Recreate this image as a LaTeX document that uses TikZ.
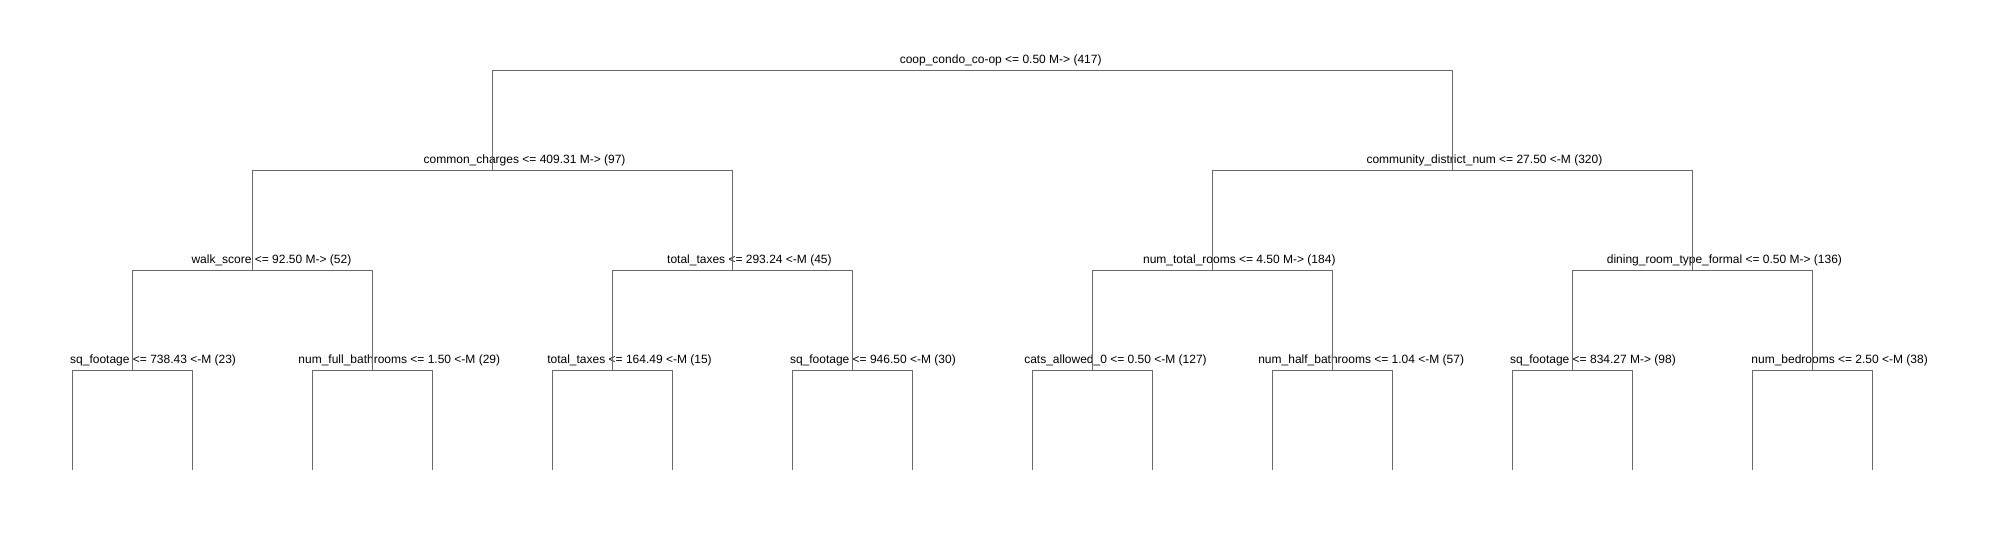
\documentclass[tikz,border=0pt]{standalone}
\usepackage{fontspec}
\setmainfont{Liberation Sans}
\definecolor{treegray}{RGB}{105,105,105}

\begin{document}
\begin{tikzpicture}
[every node/.style={font=\fontsize{9}{10}\selectfont,anchor=base,inner sep=0pt},x=0.75pt,y=-0.75pt]

\useasboundingbox (0,0) rectangle (1998,540);

%split points
\coordinate (coop) at (972.5,70.3);
\coordinate (common) at (492.5,170.3);
\coordinate (district) at (1452.5,170.3);
\coordinate (walk) at (252.5,270.3);
\coordinate (taxesA) at (732.5,270.3);
\coordinate (rooms) at (1212.5,270.3);
\coordinate (dining) at (1692.5,270.3);
\coordinate (sqftA) at (132.5,370.3);
\coordinate (fullbath) at (372.5,370.3);
\coordinate (taxesB) at (612.5,370.3);
\coordinate (sqftB) at (852.5,370.3);
\coordinate (cats) at (1092.5,370.3);
\coordinate (halfbath) at (1332.5,370.3);
\coordinate (sqftC) at (1572.5,370.3);
\coordinate (bedrooms) at (1812.5,370.3);

%leaves
\coordinate (leafA) at (72.5,470.3);
\coordinate (leafB) at (192.5,470.3);
\coordinate (leafC) at (312.5,470.3);
\coordinate (leafD) at (432.5,470.3);
\coordinate (leafE) at (552.5,470.3);
\coordinate (leafF) at (672.5,470.3);
\coordinate (leafG) at (792.5,470.3);
\coordinate (leafH) at (912.5,470.3);
\coordinate (leafI) at (1032.5,470.3);
\coordinate (leafJ) at (1152.5,470.3);
\coordinate (leafK) at (1272.5,470.3);
\coordinate (leafL) at (1392.5,470.3);
\coordinate (leafM) at (1512.5,470.3);
\coordinate (leafN) at (1632.5,470.3);
\coordinate (leafO) at (1752.5,470.3);
\coordinate (leafP) at (1872.5,470.3);

%labels
\node (coopL) at (1000.7,63.8) {coop\_condo\_co-op <= 0.50 M-> (417)};
\node (commonL) at (524.6,163.8) {common\_charges <= 409.31 M-> (97)};
\node (districtL) at (1484.4,163.8) {community\_district\_num <= 27.50 <-M (320)};
\node (walkL) at (271.4,263.8) {walk\_score <= 92.50 M-> (52)};
\node (taxesAL) at (749.4,263.8) {total\_taxes <= 293.24 <-M (45)};
\node (roomsL) at (1239.3,263.8) {num\_total\_rooms <= 4.50 M-> (184)};
\node (diningL) at (1724.4,263.8) {dining\_room\_type\_formal <= 0.50 M-> (136)};
\node (sqftAL) at (153.1,363.8) {sq\_footage <= 738.43 <-M (23)};
\node (fullbathL) at (399.3,363.8) {num\_full\_bathrooms <= 1.50 <-M (29)};
\node (taxesBL) at (629.5,363.8) {total\_taxes <= 164.49 <-M (15)};
\node (sqftBL) at (872.9,363.8) {sq\_footage <= 946.50 <-M (30)};
\node (catsL) at (1115.5,363.8) {cats\_allowed\_0 <= 0.50 <-M (127)};
\node (halfbathL) at (1361.2,363.8) {num\_half\_bathrooms <= 1.04 <-M (57)};
\node (sqftCL) at (1592.9,363.8) {sq\_footage <= 834.27 M-> (98)};
\node (bedroomsL) at (1839.6,363.8) {num\_bedrooms <= 2.50 <-M (38)};

\draw[treegray,line width=0.75pt]
	(coop) -| (common)	(coop) -| (district)
	(common) -| (walk)	(common) -| (taxesA)
	(district) -| (rooms)	(district) -| (dining)
	(walk) -| (sqftA)	(walk) -| (fullbath)
	(taxesA) -| (taxesB)	(taxesA) -| (sqftB)
	(rooms) -| (cats)	(rooms) -| (halfbath)
	(dining) -| (sqftC)	(dining) -| (bedrooms)
	(sqftA) -| (leafA)	(sqftA) -| (leafB)
	(fullbath) -| (leafC)	(fullbath) -| (leafD)
	(taxesB) -| (leafE)	(taxesB) -| (leafF)
	(sqftB) -| (leafG)	(sqftB) -| (leafH)
	(cats) -| (leafI)	(cats) -| (leafJ)
	(halfbath) -| (leafK)	(halfbath) -| (leafL)
	(sqftC) -| (leafM)	(sqftC) -| (leafN)
	(bedrooms) -| (leafO)	(bedrooms) -| (leafP);

%			(coop) edge (common) edge (district);
\end{tikzpicture}
\end{document}
